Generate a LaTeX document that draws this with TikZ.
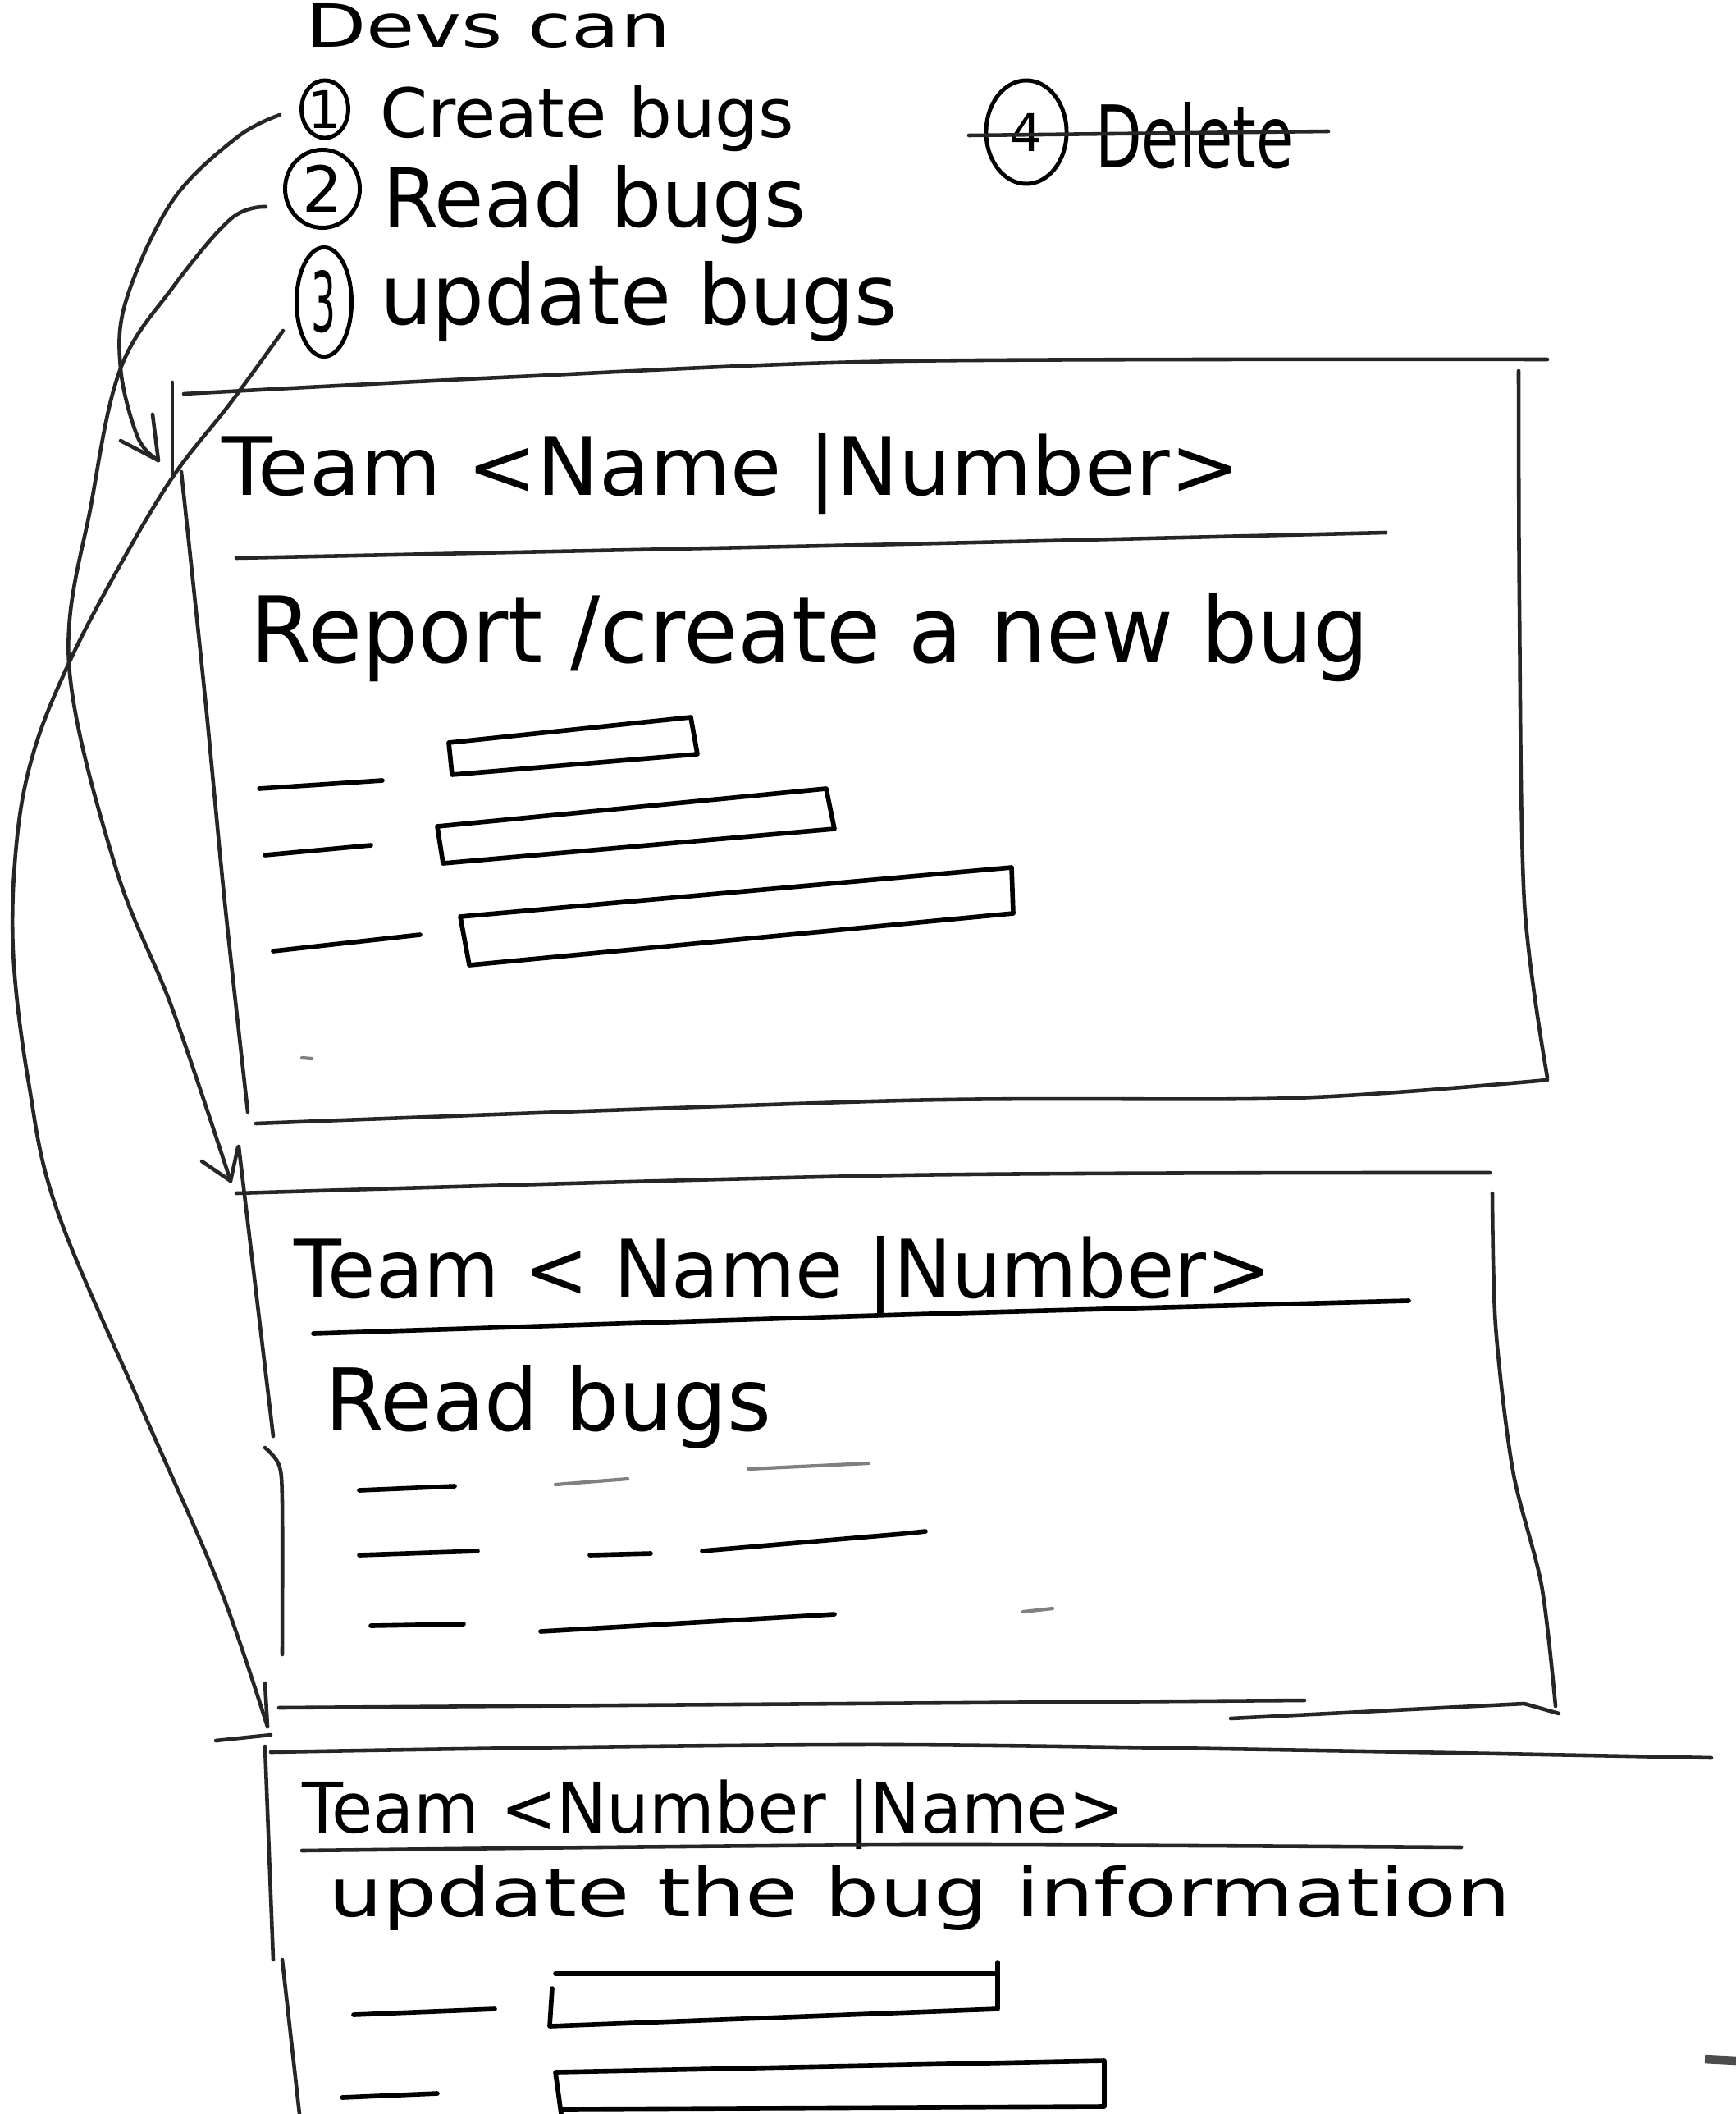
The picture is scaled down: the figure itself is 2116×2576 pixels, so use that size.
\documentclass[tikz,border=0pt]{standalone}
\usepackage{fontspec}
\setmainfont{DejaVu Sans}
\usetikzlibrary{shapes.geometric,calc}
\newcommand{\hw}[3]{\resizebox{#1}{#2}{#3}}
\begin{document}
\begin{tikzpicture}[x=0.01cm,y=-0.01cm,
  pen/.style={line width=1.6pt,line cap=round,line join=round,black},
  edge/.style={line width=1.3pt,line cap=round,line join=round,black!85},
  faint/.style={line width=1.2pt,line cap=round,black!50},
  txt/.style={inner sep=0pt,outer sep=0pt,anchor=base west,text=black},
  num/.style={ellipse,draw,line width=1.4pt,inner sep=0pt}]
\useasboundingbox[fill=white] (0,0) rectangle (2116,2576);

% ---- list at the top ----
\node[txt] (devs) at (372,58) {\hw{4.45cm}{0.53cm}{Devs can}};
\node[num,minimum width=0.49cm,minimum height=0.70cm] (n1) at (396,133) {\fontsize{18}{18}\selectfont 1};
\node[txt] (l1) at (463,168) {\hw{5.05cm}{0.63cm}{Create bugs}};
\node[num,minimum width=0.91cm,minimum height=0.95cm] (n2) at (393,230) {\fontsize{22}{22}\selectfont 2};
\node[txt] (l2) at (466,277) {\hw{5.16cm}{0.75cm}{Read bugs}};
\node[num,minimum width=0.67cm,minimum height=1.33cm] (n3) at (395,368) {\hw{0.3cm}{0.75cm}{3}};
\node[txt] (l3) at (463,396) {\hw{6.31cm}{0.77cm}{update bugs}};
\node[num,minimum width=0.98cm,minimum height=1.26cm] (n4) at (1251,161) {\fontsize{18}{18}\selectfont 4};
\node[txt] (l4) at (1335,205) {\hw{2.42cm}{0.80cm}{Delete}};
\draw[edge] (1181,165) -- (1619,160);

% ---- box 1 : create ----
\draw[edge] plot[smooth] coordinates {(224,480) (631,459) (1100,440) (1886,438)};
\draw[edge] (210,466) -- (210,582);
\draw[edge] plot[smooth] coordinates {(221,575) (250,850) (274,1100) (302,1355)};
\draw[edge] plot[smooth] coordinates {(1851,452) (1852,738) (1858,1100) (1886,1313)};
\draw[edge] plot[smooth] coordinates {(312,1369) (1100,1341) (1577,1338) (1886,1316)};
\node[txt] (h1) at (270,603) {\hw{12.4cm}{0.75cm}{Team <Name |Number>}};
\draw[edge] plot[smooth] coordinates {(288,680) (1100,663) (1689,649)};
\node[txt] (r1) at (305,807) {\hw{13.63cm}{0.85cm}{Report /create a new bug}};
\draw[pen] (316,961) -- (466,951);
\draw[pen] (547,905) -- (842,874) -- (850,919) -- (551,944) -- cycle;
\draw[pen] (323,1042) -- (452,1030);
\draw[pen] (533,1007) -- (1007,961) -- (1017,1010) -- (540,1052) -- cycle;
\draw[pen] (333,1159) -- (512,1139);
\draw[pen] (561,1117) -- (1233,1057) -- (1235,1113) -- (572,1176) -- cycle;
\draw[faint] (368,1289) -- (380,1290);

% ---- box 2 : read ----
\draw[edge] (291,1397) -- (333,1750);
\draw[edge] plot[smooth] coordinates {(323,1764) (340,1785) (344,1830) (344,2016)};
\draw[edge] plot[smooth] coordinates {(288,1454) (1100,1432) (1816,1429)};
\draw[edge] plot[smooth] coordinates {(1819,1454) (1823,1616) (1844,1792) (1879,1932) (1896,2079)};
\draw[edge] (340,2081) -- (1590,2072);
\draw[edge] (1500,2094) -- (1858,2076) -- (1900,2088);
\node[txt] (h2) at (358,1581) {\hw{11.91cm}{0.75cm}{Team < Name |Number>}};
\draw[pen] plot[smooth] coordinates {(382,1625) (1100,1602) (1717,1585)};
\node[txt] (r2) at (396,1743) {\hw{5.44cm}{0.80cm}{Read bugs}};
\draw[pen] (438,1816) -- (554,1811);
\draw[faint] (677,1809) -- (765,1802);
\draw[faint] (912,1790) -- (1059,1783);
\draw[pen] (438,1895) -- (582,1890);
\draw[pen] (719,1895) -- (793,1893);
\draw[pen] (856,1890) -- (1100,1869) -- (1128,1866);
\draw[pen] (452,1981) -- (565,1979);
\draw[pen] (659,1988) -- (1017,1967);
\draw[faint] (1247,1964) -- (1283,1960);

% ---- box 3 : update ----
\draw[edge] plot[smooth] coordinates {(330,2135) (1100,2126) (2086,2142)};
\draw[edge] (323,2128) -- (333,2388);
\draw[edge] (344,2388) -- (365,2576);
\node[txt] (h3) at (368,2233) {\hw{10.02cm}{0.65cm}{Team <Number |Name>}};
\draw[edge] plot[smooth] coordinates {(368,2255) (1100,2248) (1781,2251)};
\node[txt] (r3) at (400,2335) {\hw{14.4cm}{0.62cm}{update the bug information}};
\draw[pen] (431,2455) -- (603,2448);
\draw[pen] (677,2405) -- (1212,2405);
\draw[pen] (673,2423) -- (670,2469) -- (1216,2448) -- (1216,2391);
\draw[pen] (417,2556) -- (533,2551);
\draw[pen] (684,2576) -- (677,2525) -- (1346,2511) -- (1346,2567) -- (684,2570);
\draw[line width=3pt,black!70] (2078,2509) -- (2116,2511);

% ---- arrows ----
\coordinate (s1) at ($(n1.west)+(-24,7)$);
\coordinate (s2) at ($(n2.west)+(-21,22)$);
\coordinate (s3) at ($(n3.west)+(-14,35)$);
\coordinate (t1) at (193,561);
\coordinate (t2) at (281,1439);
\coordinate (t3) at (326,2104);
\draw[edge] plot[smooth,tension=0.6] coordinates {(s1) (288,168) (210,245) (154,365) (147,449) (168,533) (t1)};
\draw[edge] (t1) -- ++(-46,-24) (t1) -- ++(-7,-56);
\draw[edge] plot[smooth,tension=0.6] coordinates {(s2) (281,267) (210,351) (147,449) (112,610) (84,808) (140,1054) (210,1229) (t2)};
\draw[edge] (t2) -- ++(-35,-24) (t2) -- ++(9,-41);
\draw[edge] plot[smooth,tension=0.6] coordinates {(s3) (281,491) (210,582) (140,700) (84,808) (42,913) (21,1019) (16,1159) (35,1320) (70,1476) (175,1721) (267,1932) (t3)};
\draw[edge] (t3) -- ++(-3,-53) (263,2121) -- (330,2114);
\end{tikzpicture}
\end{document}
